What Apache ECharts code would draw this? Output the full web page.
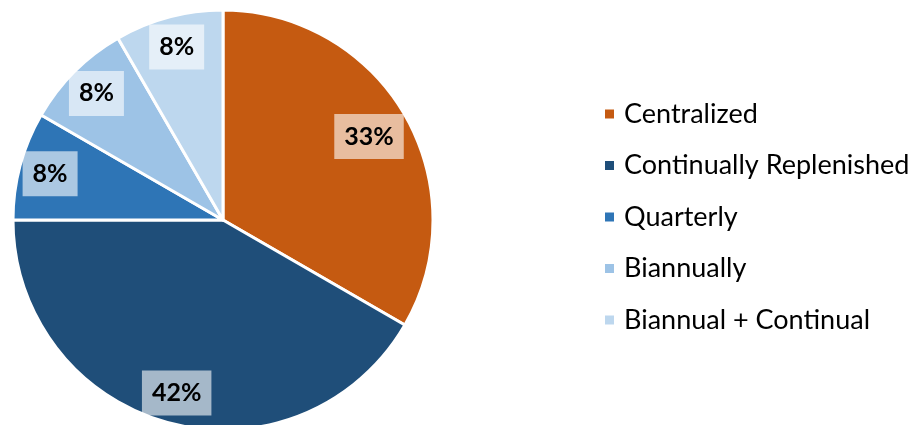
<!DOCTYPE html>
<html>
<head>
<meta charset="utf-8">
<script src="https://cdn.jsdelivr.net/npm/echarts@6/dist/echarts.min.js"></script>
<style>
  html, body { margin: 0; padding: 0; background: #fff; }
  #chart { width: 916px; height: 425px; }
</style>
</head>
<body>
<div id="chart"></div>
<script>
// Replenishment model: number of responses per model (n = 12)
const categories = ['Centralized', 'Continually Replenished', 'Quarterly', 'Biannually', 'Biannual + Continual'];
const counts = [4, 5, 1, 1, 1];
const colors = ['#C55A11', '#1F4E79', '#2E75B6', '#9DC3E6', '#BDD7EE'];

const FONT = 'Lato, "Open Sans", sans-serif';
const pieData = categories.map((name, i) => ({ name, value: counts[i], itemStyle: { color: colors[i] } }));

const chart = echarts.init(document.getElementById('chart'), null, { renderer: 'canvas' });
chart.setOption({
  animation: false,
  backgroundColor: '#ffffff',
  legend: {
    orient: 'vertical',
    left: 598,
    top: 94,
    icon: 'rect',
    itemWidth: 11,
    itemHeight: 11,
    itemGap: 21.5,
    textStyle: { fontFamily: FONT, fontSize: 27, color: '#000', lineHeight: 30, padding: [0, 0, 0, 4] },
    data: categories
  },
  series: [
    {
      // the slices
      type: 'pie',
      center: [223, 220],
      radius: [0, 210],
      startAngle: 90,
      clockwise: true,
      silent: true,
      itemStyle: { borderColor: '#ffffff', borderWidth: 3 },
      label: { show: false },
      labelLine: { show: false },
      data: pieData
    },
    {
      // transparent ring used only to place the percentage labels
      type: 'pie',
      center: [223, 220],
      radius: [142, 210],
      startAngle: 90,
      clockwise: true,
      silent: true,
      legendHoverLink: false,
      itemStyle: { color: 'rgba(0,0,0,0)', borderWidth: 0 },
      label: {
        show: true,
        position: 'inside',
        // each share rounded on its own
        formatter: (p) => Math.round(p.percent) + '%',
        fontFamily: FONT,
        fontWeight: 'bold',
        fontSize: 25,
        color: '#000',
        backgroundColor: 'rgba(255,255,255,0.6)',
        padding: [11, 10, 9, 10]
      },
      labelLayout: function (p) {
        // pull the large first label slightly toward the centre
        return p.dataIndex === 0 ? { dx: -9, dy: 6 } : {};
      },
      labelLine: { show: false },
      data: categories.map((name, i) => ({ name, value: counts[i] }))
    }
  ]
});
</script>
</body>
</html>
